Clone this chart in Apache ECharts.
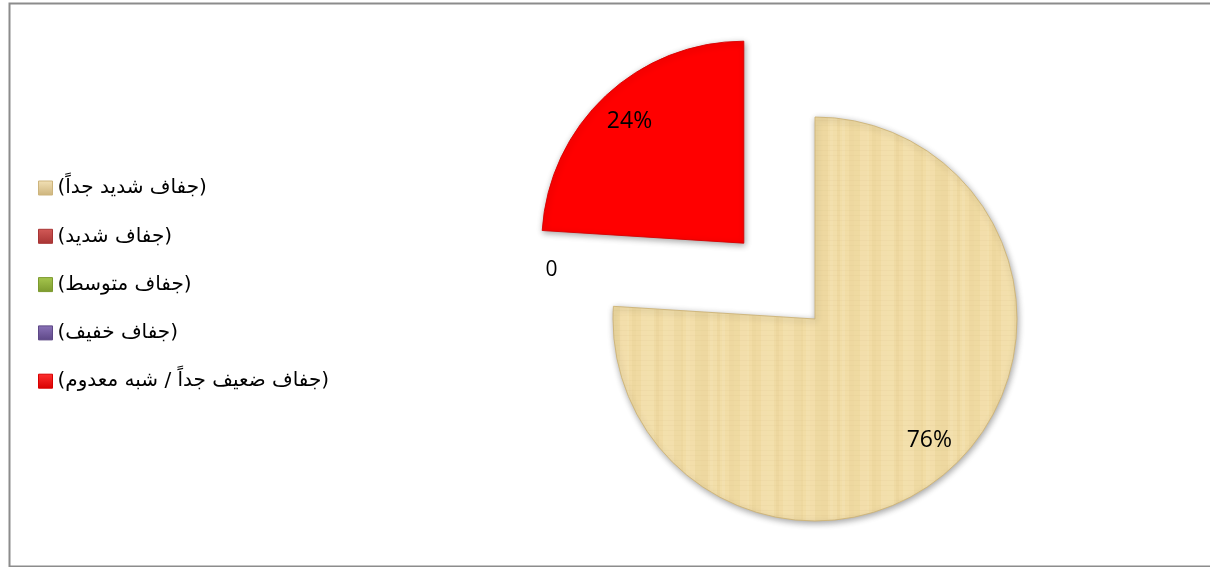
<!DOCTYPE html>
<html>
<head>
<meta charset="utf-8">
<script src="https://cdn.jsdelivr.net/npm/echarts@6/dist/echarts.min.js"></script>
<style>
html,body{margin:0;padding:0;background:#fff;}
#chart{width:1210px;height:567px;}
</style>
</head>
<body>
<div id="chart"></div>
<script>
// ---- data ----
const categories = ['(جفاف شديد جداً)', '(جفاف شديد)', '(جفاف متوسط)', '(جفاف خفيف)', '(جفاف ضعيف جداً / شبه معدوم)'];
const values = [76, 0, 0, 0, 24];
const explodedSlice = '(جفاف ضعيف جداً / شبه معدوم)';

// ---- styles ----
const legendColors = [
  ['#f2e1b6', '#cdb47c'],
  ['#d25a57', '#a83434'],
  ['#a6c64e', '#7c9a2e'],
  ['#8a72b8', '#5d4786'],
  ['#ff3030', '#d80000']
];

function makeTexture() {
  const c = document.createElement('canvas');
  c.width = 120; c.height = 120;
  const g = c.getContext('2d');
  g.fillStyle = '#f2dda6';
  g.fillRect(0, 0, 120, 120);
  let x = 0, k = 0;
  while (x < 120) {
    const w = 2 + (k * 7) % 6;
    const s = Math.sin(k * 1.3 + 0.4);
    g.fillStyle = s > 0 ? 'rgba(255,248,225,' + (0.14 * s).toFixed(3) + ')'
                        : 'rgba(200,170,100,' + (0.10 * -s).toFixed(3) + ')';
    g.fillRect(x, 0, w, 120);
    x += w; k++;
  }
  for (let j = 0; j < 120; j += 5) {
    const a = 0.03 + 0.03 * Math.abs(Math.cos(j * 0.53));
    g.fillStyle = 'rgba(190,160,95,' + a.toFixed(3) + ')';
    g.fillRect(0, j, 120, 1);
  }
  return c;
}
const texture = makeTexture();

const sliceColors = [
  { image: texture, repeat: 'repeat' },
  '#b84444',
  '#8db03c',
  '#6a5496',
  '#ff0000'
];
const sliceBorders = ['rgba(205,180,120,0.9)', 'rgba(0,0,0,0)', 'rgba(0,0,0,0)', 'rgba(0,0,0,0)', 'rgba(215,0,0,0.9)'];

const chart = echarts.init(document.getElementById('chart'), null, { renderer: 'canvas' });

const baseData = categories.map((name, i) => ({
  name: name,
  value: values[i],
  selected: name === explodedSlice,
  itemStyle: {
    color: sliceColors[i],
    borderColor: sliceBorders[i],
    borderWidth: values[i] > 0 ? 1 : 0,
    shadowBlur: values[i] > 0 ? 6 : 0,
    shadowOffsetX: 1,
    shadowOffsetY: 2,
    shadowColor: 'rgba(0,0,0,0.35)'
  }
}));

const overlayData = categories.map((name, i) => ({
  name: name,
  value: values[i],
  selected: name === explodedSlice
}));

const labelFont = '"Open Sans", "DejaVu Sans", sans-serif';

chart.setOption({
  backgroundColor: '#ffffff',
  animation: false,
  graphic: [{
    type: 'rect',
    left: 7, top: 1,
    shape: { width: 1215, height: 563 },
    style: { fill: 'none', stroke: '#8c8c8c', lineWidth: 2 },
    silent: true
  }],
  legend: {
    orient: 'vertical',
    left: 38,
    top: 178,
    padding: 0,
    itemGap: 28.3,
    itemWidth: 14,
    itemHeight: 14,
    icon: 'rect',
    selectedMode: false,
    textStyle: {
      fontFamily: '"DejaVu Sans", sans-serif',
      fontSize: 20,
      color: '#000',
      lineHeight: 20
    },
    data: categories.map((name, i) => ({
      name: name,
      itemStyle: {
        color: {
          type: 'linear', x: 0, y: 0, x2: 0, y2: 1,
          colorStops: [{ offset: 0, color: legendColors[i][0] }, { offset: 1, color: legendColors[i][1] }]
        },
        borderColor: legendColors[i][1],
        borderWidth: 1
      }
    }))
  },
  series: [
    {
      type: 'pie',
      center: [815, 319],
      radius: [0, 202],
      startAngle: 90,
      clockwise: true,
      selectedMode: 'multiple',
      selectedOffset: 104,
      avoidLabelOverlap: false,
      emphasis: { disabled: true },
      label: {
        show: true,
        position: 'outside',
        formatter: p => (p.value === 0 ? '0' : ''),
        fontFamily: labelFont,
        fontSize: 21,
        color: '#000',
        offset: [0, -34],
        distanceToLabelLine: 6
      },
      labelLine: { show: false, length: 30, length2: 20 },
      data: baseData
    },
    {
      type: 'pie',
      center: [815, 319],
      radius: [126, 202],
      startAngle: 90,
      clockwise: true,
      selectedMode: 'multiple',
      selectedOffset: 104,
      avoidLabelOverlap: false,
      silent: true,
      emphasis: { disabled: true },
      itemStyle: { color: 'rgba(0,0,0,0)' },
      label: {
        show: true,
        position: 'inside',
        formatter: p => (p.value > 0 ? Math.round(p.percent) + '%' : ''),
        fontFamily: labelFont,
        fontSize: 23,
        color: '#000'
      },
      labelLine: { show: false },
      data: overlayData
    }
  ]
});
</script>
</body>
</html>
